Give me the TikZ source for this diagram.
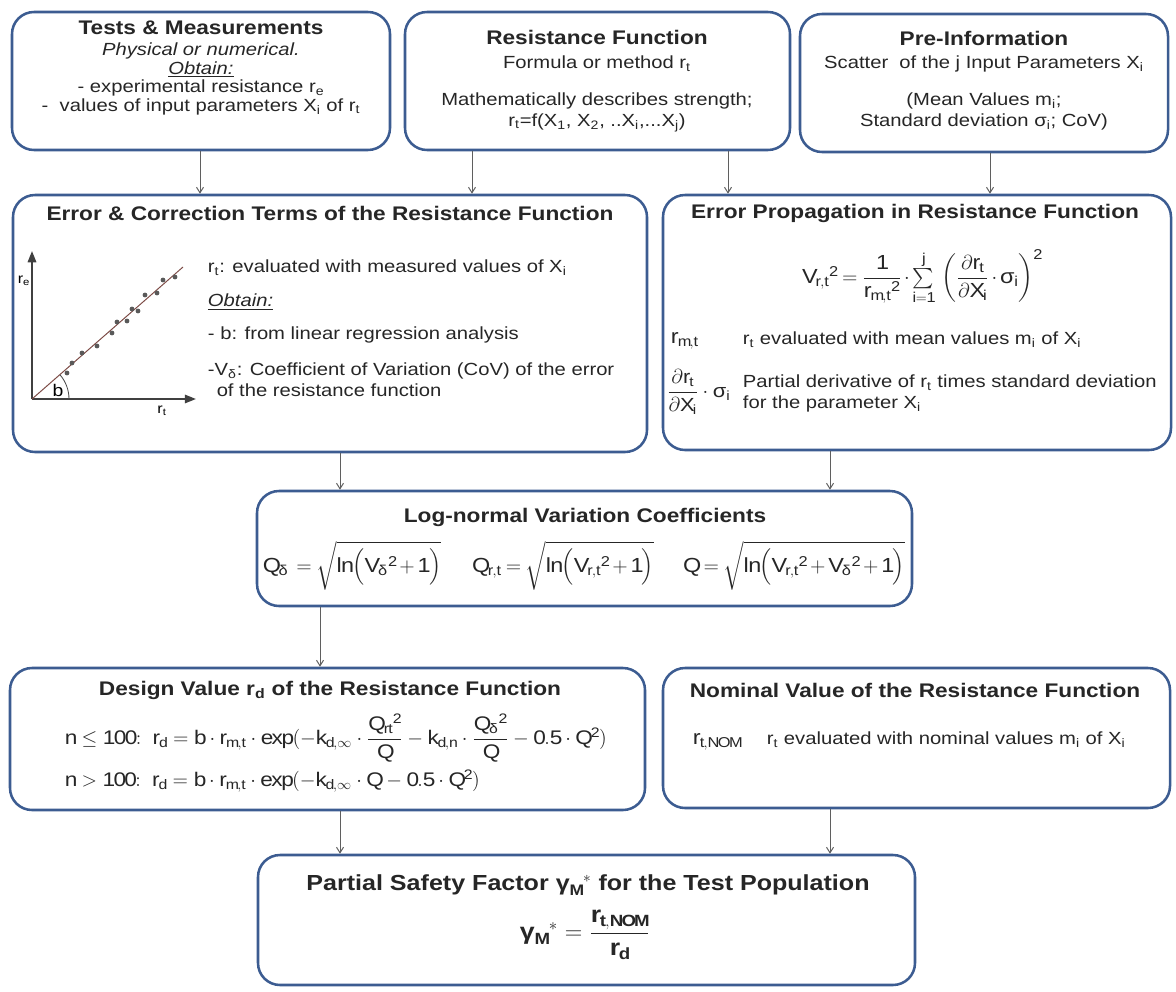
\documentclass[tikz,border=0pt]{standalone}
\usepackage{amsmath}
\usepackage{fontspec}
\setmainfont[FakeStretch=1.15]{Liberation Sans}
\usetikzlibrary{fit,arrows.meta}
\definecolor{boxblue}{RGB}{60,92,145}
\definecolor{flowgray}{RGB}{95,95,95}
\definecolor{fitline}{RGB}{125,75,70}
\newcommand{\mr}[1]{\mathrm{#1}}
\newcommand{\gs}{\text{σ}}
\newcommand{\gd}{\text{δ}}
\newcommand{\ttlfont}{\fontsize{14}{16}\selectfont\bfseries}
\newcommand{\txtfont}{\fontsize{12.5}{15}\selectfont}
\newcommand{\eqfont}{\fontsize{14.5}{17}\selectfont\medmuskip=2.5mu\thickmuskip=4mu}

\begin{document}
\begin{tikzpicture}[x=0.025cm,y=-0.025cm,
  box/.style={draw=boxblue,line width=1.8pt,rounded corners=0.55cm,fill=white,inner sep=0pt},
  ttl/.style={font=\ttlfont,text=black!85},
  txt/.style={font=\txtfont,text=black!85},
  eq/.style={font=\eqfont,text=black!85},
  flow/.style={flowgray,line width=0.7pt,-{Straight Barb[length=4pt,width=5pt]}}]

\useasboundingbox (0,0) rectangle (1176,992);

% boxes
\node[box,fit={(12,12) (390,150)}] (tests) {};
\node[box,fit={(405,12) (790,150)}] (res) {};
\node[box,fit={(800,14) (1168,152)}] (pre) {};
\node[box,fit={(13,195) (647,452)}] (err) {};
\node[box,fit={(663,195) (1171,450)}] (prop) {};
\node[box,fit={(257,491) (912,606)}] (logn) {};
\node[box,fit={(10,668) (645,810)}] (design) {};
\node[box,fit={(663,668) (1170,808)}] (nom) {};
\node[box,fit={(258,855) (915,985)}] (psf) {};

% top row
\node[ttl] (testsT) at (201,28) {Tests \& Measurements};
\node[txt,font=\fontsize{12.5}{13.2}\selectfont,align=center,anchor=north] (testsB) at (201,38)
  {\textit{Physical or numerical.}\\\underline{\textit{Obtain:}}\\- experimental resistance r\textsubscript{e}\\-~ values of input parameters X\textsubscript{i} of r\textsubscript{t}};

\node[ttl] (resT) at (597,37) {Resistance Function};
\node[txt,align=center,anchor=north] (resB) at (597,51)
  {Formula or method r\textsubscript{t}\\[11pt]Mathematically describes strength;\\r\textsubscript{t}=f(X\textsubscript{1}, X\textsubscript{2}, ..X\textsubscript{i},...X\textsubscript{j})};

\node[ttl] (preT) at (984,38) {Pre-Information};
\node[txt,align=center,anchor=north] (preB) at (984,51)
  {Scatter~ of the j Input Parameters X\textsubscript{i}\\[11pt](Mean Values m\textsubscript{i};\\Standard deviation \gs\textsubscript{i}; CoV)};

% error & correction
\node[ttl] (errT) at (330,213) {Error \& Correction Terms of the Resistance Function};
\draw[line width=1.3pt,black!75,-{Triangle[length=8pt,width=6pt]}] (32,399) -- (32,251);
\draw[line width=1.3pt,black!75,-{Triangle[length=8pt,width=6pt]}] (32,399) -- (196,399);
\draw[fitline,line width=0.7pt] (32,399) -- (183,267);
\draw[black!70,line width=0.6pt] (69,399) arc[start angle=0,end angle=41,radius=0.925cm];
\foreach \px/\py in {67/373,72/363,82/353,97/346,112/333,117/322,127/321,132/309,138/311,145/295,157/293,163/280,175/277}
  \fill[black!65] (\px,\py) circle (1.7pt);
\node[font=\fontsize{12}{14}\selectfont] (bLbl) at (58,390) {b};
\node[font=\fontsize{10}{12}\selectfont] (reLbl) at (24,281) {r\textsubscript{e}};
\node[font=\fontsize{10}{12}\selectfont] (rtLbl) at (162,411) {r\textsubscript{t}};
\node[txt,anchor=west] (errA) at (203,268) {r\textsubscript{t}: evaluated with measured values of X\textsubscript{i}};
\node[txt,anchor=west] (errB) at (203,302) {\underline{\textit{Obtain:}}};
\node[txt,anchor=west] (errC) at (203,335) {- b: from linear regression analysis};
\node[txt,anchor=north west,align=left,font=\fontsize{12.5}{14.5}\selectfont] (errD) at (203,358)
  {-V\textsubscript{\gd}: Coefficient of Variation (CoV) of the error\\\hspace*{0.5em}of the resistance function};

% error propagation
\node[ttl] (propT) at (915,213) {Error Propagation in Resistance Function};
\node[eq] (propF) at (922,277) {$\mr{V}_{\mr{r,t}}{}^{\mr{2}}=\dfrac{\mr{1}}{\mr{r}_{\mr{m,t}}{}^{\mr{2}}}\cdot\sum\limits_{\mr{i=1}}^{\mr{j}}\,\left(\dfrac{\partial\mr{r}_{\mr{t}}}{\partial\mr{X}_{\mr{i}}}\cdot\gs_{\mr{i}}\right)^{\mr{2}}$};
\node[eq,anchor=west] (rmt) at (666,341) {$\mr{r}_{\mr{m,t}}$};
\node[txt,anchor=west] (rmtT) at (738,340) {r\textsubscript{t} evaluated with mean values m\textsubscript{i} of X\textsubscript{i}};
\node[eq,anchor=west,font=\fontsize{13.5}{16}\selectfont] (dX) at (662,392) {$\dfrac{\partial\mr{r}_{\mr{t}}}{\partial\mr{X}_{\mr{i}}}\cdot\gs_{\mr{i}}$};
\node[txt,anchor=north west,align=left,font=\fontsize{12.5}{14.5}\selectfont] (dXT) at (738,370)
  {Partial derivative of r\textsubscript{t} times standard deviation\\for the parameter X\textsubscript{i}};

% log-normal
\node[ttl] (lognT) at (585,517) {Log-normal Variation Coefficients};
\node[eq] (qd) at (352,566) {$\mr{Q}_{\gd}\,=\sqrt{\mr{ln}\Bigl(\mr{V}_{\gd}{}^{\mr{2}}+\mr{1}\Bigr)}$};
\node[eq] (qrt) at (563,566) {$\mr{Q}_{\mr{r,t}}=\sqrt{\mr{ln}\Bigl(\mr{V}_{\mr{r,t}}{}^{\mr{2}}+\mr{1}\Bigr)}$};
\node[eq] (qq) at (794,566) {$\mr{Q}=\sqrt{\mr{ln}\Bigl(\mr{V}_{\mr{r,t}}{}^{\mr{2}}+\mr{V}_{\gd}{}^{\mr{2}}+\mr{1}\Bigr)}$};

% design value
\node[ttl] (designT) at (330,690) {Design Value r\textsubscript{d} of the Resistance Function};
\node[eq,anchor=west,font=\fontsize{14}{16}\selectfont] (designA) at (60,738) {$\mr{n}\le\mr{100}{:}\;\; \mr{r}_{\mr{d}}=\mr{b}\cdot\mr{r}_{\mr{m,t}}\cdot\mr{exp}(-\mr{k}_{\mr{d},\infty}\cdot\dfrac{\mr{Q}_{\mr{rt}}{}^{\mr{2}}}{\mr{Q}}-\mr{k}_{\mr{d,n}}\cdot\dfrac{\mr{Q}_{\gd}{}^{\mr{2}}}{\mr{Q}}-\mr{0.5}\cdot\mr{Q}^{\mr{2}})$};
\node[eq,anchor=west,font=\fontsize{14}{16}\selectfont] (designB) at (60,781) {$\mr{n}>\mr{100}{:}\;\; \mr{r}_{\mr{d}}=\mr{b}\cdot\mr{r}_{\mr{m,t}}\cdot\mr{exp}(-\mr{k}_{\mr{d},\infty}\cdot\mr{Q}-\mr{0.5}\cdot\mr{Q}^{\mr{2}})$};

% nominal value
\node[ttl] (nomT) at (915,690) {Nominal Value of the Resistance Function};
\node[eq,anchor=west] (nomS) at (688,742) {$\mr{r}_{\mr{t,NOM}}$};
\node[txt,anchor=west] (nomX) at (762,740) {r\textsubscript{t} evaluated with nominal values m\textsubscript{i} of X\textsubscript{i}};

% partial safety factor
\node[ttl,font=\fontsize{15.5}{18}\selectfont\bfseries] (psfT) at (588,885) {Partial Safety Factor $\text{γ}_{\mathbf{M}}{}^{*}$ for the Test Population};
\node[eq,font=\fontsize{16.5}{19}\selectfont\bfseries] (psfF) at (585,935) {$\text{γ}_{\mathbf{M}}{}^{*}=\dfrac{\mathbf{r}_{\mathbf{t,NOM}}}{\mathbf{r}_{\mathbf{d}}}$};

% connectors
\coordinate (c1) at (200,0);
\coordinate (c2) at (472,0);
\coordinate (c3) at (728,0);
\coordinate (c4) at (990,0);
\coordinate (c5) at (340,0);
\coordinate (c6) at (830,0);
\coordinate (c7) at (320,0);
\draw[flow] (tests.south -| c1) -- (err.north -| c1);
\draw[flow] (res.south -| c2) -- (err.north -| c2);
\draw[flow] (res.south -| c3) -- (prop.north -| c3);
\draw[flow] (pre.south -| c4) -- (prop.north -| c4);
\draw[flow] (err.south -| c5) -- (logn.north -| c5);
\draw[flow] (prop.south -| c6) -- (logn.north -| c6);
\draw[flow] (logn.south -| c7) -- (design.north -| c7);
\draw[flow] (design.south -| c5) -- (psf.north -| c5);
\draw[flow] (nom.south -| c6) -- (psf.north -| c6);
\end{tikzpicture}
\end{document}
